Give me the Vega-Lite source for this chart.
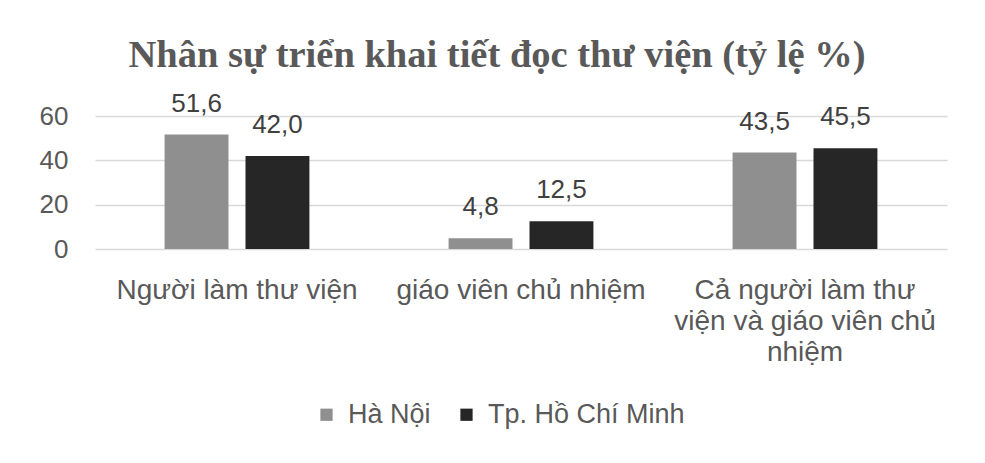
{
  "$schema": "https://vega.github.io/schema/vega-lite/v6.json",
  "width": 852,
  "height": 133,
  "autosize": {"type": "none"},
  "padding": {"left": 95, "top": 116, "right": 38, "bottom": 214},
  "background": "white",
  "title": {
    "text": "Nhân sự triển khai tiết đọc thư viện (tỷ lệ %)",
    "font": "Liberation Serif",
    "fontSize": 38.5,
    "fontWeight": "bold",
    "color": "#595959",
    "anchor": "middle",
    "dx": -24,
    "offset": 15
  },
  "config": {
    "view": {"stroke": null},
    "locale": {"number": {"decimal": ",", "thousands": ".", "grouping": [3], "currency": ["", " €"]}},
    "font": "Liberation Sans"
  },
  "data": {
    "values": [
      {"cat": "Người làm thư viện", "city": "Hà Nội", "v": 51.6},
      {"cat": "Người làm thư viện", "city": "Tp. Hồ Chí Minh", "v": 42.0},
      {"cat": "giáo viên chủ nhiệm", "city": "Hà Nội", "v": 4.8},
      {"cat": "giáo viên chủ nhiệm", "city": "Tp. Hồ Chí Minh", "v": 12.5},
      {"cat": "Cả người làm thư viện và giáo viên chủ nhiệm", "city": "Hà Nội", "v": 43.5},
      {"cat": "Cả người làm thư viện và giáo viên chủ nhiệm", "city": "Tp. Hồ Chí Minh", "v": 45.5}
    ]
  },
  "encoding": {
    "x": {
      "field": "cat",
      "type": "nominal",
      "sort": null,
      "title": null,
      "scale": {"paddingInner": 0.49, "paddingOuter": 0.245},
      "axis": {
        "labelAngle": 0,
        "domain": false,
        "ticks": false,
        "labelFontSize": 28,
        "labelColor": "#595959",
        "labelPadding": 27,
        "labelLineHeight": 31,
        "labelLimit": 320,
        "labelExpr": "datum.value == 'Cả người làm thư viện và giáo viên chủ nhiệm' ? ['Cả người làm thư', 'viện và giáo viên chủ', 'nhiệm'] : datum.label"
      }
    },
    "xOffset": {"field": "city", "type": "nominal", "scale": {"paddingInner": 0.21, "paddingOuter": 0}},
    "y": {
      "field": "v",
      "type": "quantitative",
      "title": null,
      "scale": {"domain": [0, 60], "nice": false},
      "axis": {
        "values": [0, 20, 40, 60],
        "domain": false,
        "ticks": false,
        "gridColor": "#d9d9d9",
        "gridWidth": 1.5,
        "labelFontSize": 26,
        "labelColor": "#595959",
        "labelPadding": 27
      }
    }
  },
  "layer": [
    {
      "mark": {"type": "bar"},
      "encoding": {
        "color": {
          "field": "city",
          "type": "nominal",
          "scale": {"domain": ["Hà Nội", "Tp. Hồ Chí Minh"], "range": ["#8f8f8f", "#262626"]},
          "legend": {
            "title": null,
            "orient": "none",
            "direction": "horizontal",
            "legendX": 218,
            "legendY": 285,
            "symbolType": "square",
            "symbolSize": 150,
            "labelFontSize": 27,
            "labelColor": "#595959",
            "labelOffset": 8,
            "columnPadding": 22,
            "labelLimit": 300
          }
        }
      }
    },
    {
      "mark": {"type": "text", "baseline": "alphabetic", "dy": -23, "fontSize": 26, "color": "#404040"},
      "encoding": {
        "text": {"field": "v", "type": "quantitative", "format": ".1f"}
      }
    }
  ]
}
